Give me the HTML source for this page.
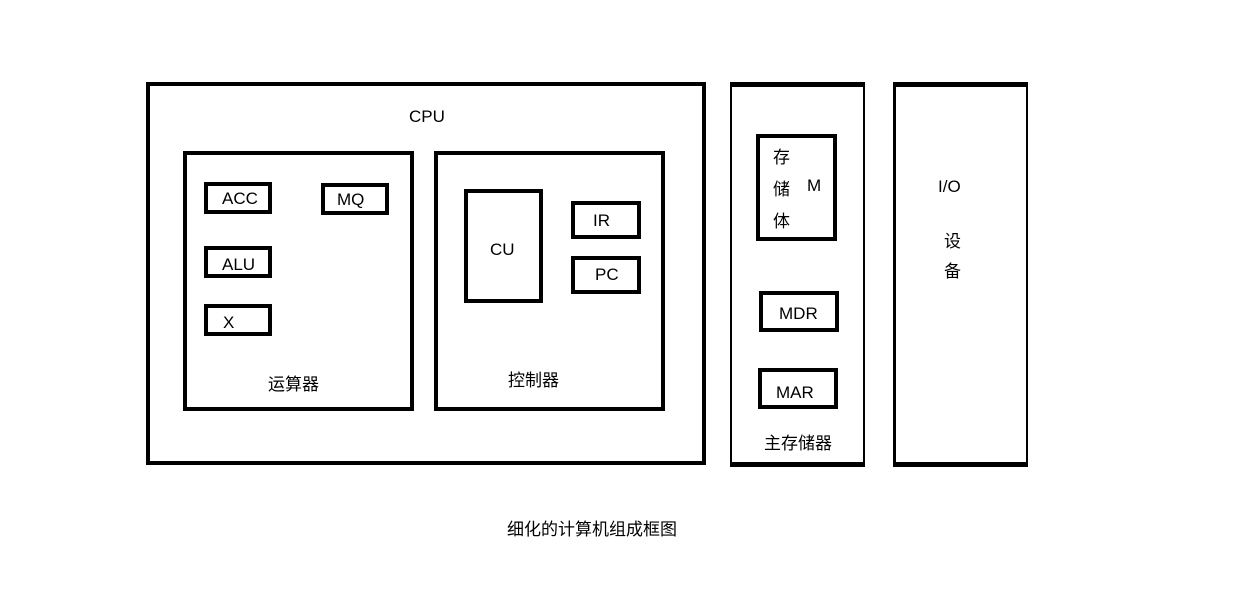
<html><head><style>
body{margin:0;width:1238px;height:616px;background:#fff;position:relative;overflow:hidden;font-family:"Liberation Sans","Noto Sans CJK SC",sans-serif;font-size:17px;color:#000}
.b{position:absolute;box-sizing:border-box;border:4px solid #000}
.t{position:absolute;white-space:nowrap}
</style></head><body>
<div class="b" style="left:146px;top:82px;width:560px;height:383px"></div>
<div class="t" style="left:409px;top:107px">CPU</div>
<div class="b" style="left:183px;top:151px;width:231px;height:260px"></div>
<div class="b" style="left:434px;top:151px;width:231px;height:260px"></div>
<div class="b" style="left:204px;top:182px;width:68px;height:32px"></div><div class="t" style="left:222px;top:189px">ACC</div>
<div class="b" style="left:321px;top:183px;width:68px;height:32px"></div><div class="t" style="left:337px;top:190px">MQ</div>
<div class="b" style="left:204px;top:246px;width:68px;height:32px"></div><div class="t" style="left:222px;top:255px">ALU</div>
<div class="b" style="left:204px;top:304px;width:68px;height:32px"></div><div class="t" style="left:223px;top:313px">X</div>
<div class="t" style="left:268px;top:370px">运算器</div>
<div class="b" style="left:464px;top:189px;width:79px;height:114px"></div><div class="t" style="left:490px;top:240px">CU</div>
<div class="b" style="left:571px;top:201px;width:70px;height:38px"></div><div class="t" style="left:593px;top:211px">IR</div>
<div class="b" style="left:571px;top:256px;width:70px;height:38px"></div><div class="t" style="left:595px;top:265px">PC</div>
<div class="t" style="left:508px;top:366px">控制器</div>
<div class="b" style="left:730px;top:82px;width:135px;height:385px;border-width:5px 2px"></div>
<div class="b" style="left:756px;top:134px;width:81px;height:107px"></div>
<div class="t" style="left:773px;top:143px">存</div><div class="t" style="left:773px;top:175px">储</div><div class="t" style="left:773px;top:207px">体</div>
<div class="t" style="left:807px;top:176px">M</div>
<div class="b" style="left:759px;top:291px;width:80px;height:41px"></div><div class="t" style="left:779px;top:304px">MDR</div>
<div class="b" style="left:758px;top:368px;width:80px;height:41px"></div><div class="t" style="left:776px;top:383px">MAR</div>
<div class="t" style="left:764px;top:429px">主存储器</div>
<div class="b" style="left:893px;top:82px;width:135px;height:385px;border-width:5px 2px 5px 3px"></div>
<div class="t" style="left:938px;top:177px">I/O</div>
<div class="t" style="left:944px;top:227px">设</div><div class="t" style="left:944px;top:257px">备</div>
<div class="t" style="left:507px;top:515px">细化的计算机组成框图</div>
</body></html>
